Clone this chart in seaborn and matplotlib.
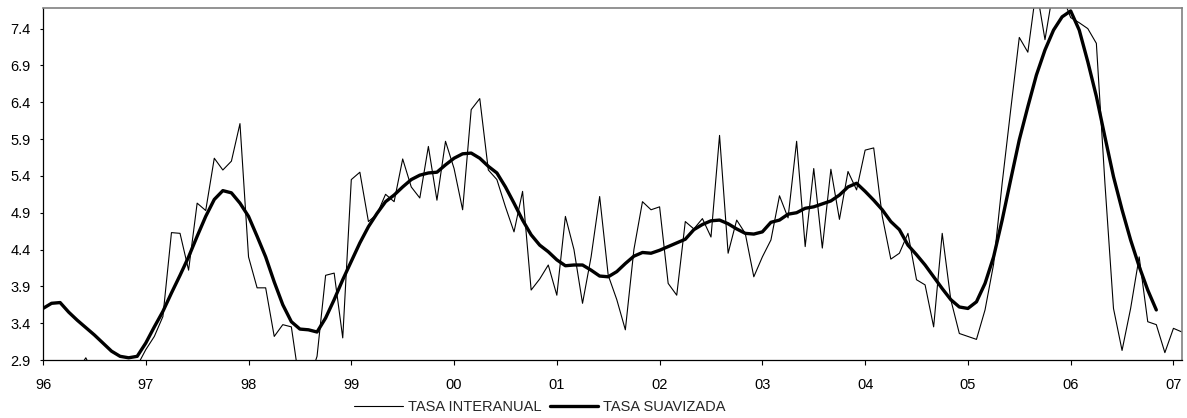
import numpy as np
import pandas as pd
import matplotlib
matplotlib.use("Agg")
import matplotlib.pyplot as plt
import seaborn as sns

# -----------------------------------------------------------
# Data: monthly values, Jan 96 = month 0
# -----------------------------------------------------------
year_labels = ['96', '97', '98', '99', '00', '01', '02', '03', '04', '05', '06', '07']

tasa_interanual = [
    2.60, 2.50, 2.55, 2.65, 2.75, 2.93, 2.70, 2.60, 2.50, 2.55, 2.65, 2.82,   # 96
    3.04, 3.22, 3.49, 4.63, 4.62, 4.12, 5.03, 4.93, 5.64, 5.48, 5.60, 6.11,   # 97
    4.30, 3.88, 3.88, 3.22, 3.38, 3.35, 2.55, 2.60, 2.95, 4.05, 4.08, 3.20,   # 98
    5.35, 5.45, 4.78, 4.88, 5.15, 5.05, 5.63, 5.25, 5.10, 5.80, 5.07, 5.87,   # 99
    5.50, 4.94, 6.30, 6.45, 5.48, 5.35, 4.98, 4.64, 5.19, 3.85, 4.00, 4.19,   # 00
    3.78, 4.85, 4.40, 3.67, 4.30, 5.12, 4.05, 3.72, 3.31, 4.40, 5.05, 4.94,   # 01
    4.98, 3.94, 3.78, 4.78, 4.68, 4.82, 4.57, 5.95, 4.35, 4.80, 4.62, 4.03,   # 02
    4.30, 4.53, 5.13, 4.83, 5.87, 4.44, 5.50, 4.42, 5.49, 4.81, 5.46, 5.21,   # 03
    5.75, 5.78, 4.85, 4.27, 4.35, 4.62, 3.99, 3.92, 3.35, 4.62, 3.72, 3.26,   # 04
    3.22, 3.18, 3.58, 4.20, 5.30, 6.30, 7.28, 7.08, 7.95, 7.25, 7.95, 7.85,   # 05
    7.55, 7.48, 7.40, 7.20, 5.30, 3.60, 3.03, 3.60, 4.30, 3.42, 3.38, 3.00,   # 06
    3.33, 3.28,                                                               # 07
]

tasa_suavizada = [
    3.60, 3.67, 3.68, 3.55, 3.44, 3.34, 3.24, 3.13, 3.02, 2.95, 2.93, 2.95,
    3.13, 3.35, 3.56, 3.81, 4.05, 4.30, 4.58, 4.85, 5.08, 5.20, 5.17, 5.03,
    4.85, 4.58, 4.30, 3.96, 3.65, 3.42, 3.32, 3.31, 3.28, 3.47, 3.72, 3.99,
    4.24, 4.49, 4.71, 4.89, 5.05, 5.14, 5.25, 5.35, 5.41, 5.44, 5.45, 5.55,
    5.64, 5.70, 5.71, 5.64, 5.53, 5.44, 5.25, 5.03, 4.80, 4.60, 4.46, 4.37,
    4.26, 4.18, 4.19, 4.19, 4.12, 4.04, 4.03, 4.10, 4.21, 4.31, 4.36, 4.35,
    4.39, 4.44, 4.49, 4.54, 4.67, 4.74, 4.79, 4.80, 4.75, 4.68, 4.62, 4.61,
    4.64, 4.77, 4.80, 4.88, 4.90, 4.96, 4.98, 5.02, 5.06, 5.14, 5.25, 5.30,
    5.19, 5.07, 4.94, 4.78, 4.67, 4.46, 4.33, 4.19, 4.03, 3.87, 3.72, 3.62,
    3.60, 3.69, 3.94, 4.30, 4.80, 5.35, 5.89, 6.34, 6.77, 7.11, 7.38, 7.56,
    7.64, 7.38, 6.95, 6.48, 5.93, 5.39, 4.94, 4.53, 4.17, 3.85, 3.58,
]

y_ticks = [2.9, 3.4, 3.9, 4.4, 4.9, 5.4, 5.9, 6.4, 6.9, 7.4]

df_int = pd.DataFrame({'t': np.arange(len(tasa_interanual)) / 12.0, 'valor': tasa_interanual})
df_suav = pd.DataFrame({'t': np.arange(len(tasa_suavizada)) / 12.0, 'valor': tasa_suavizada})

# -----------------------------------------------------------
# Plot
# -----------------------------------------------------------
sns.set_style('white')
plt.rcParams['font.family'] = ['Liberation Sans', 'DejaVu Sans']

fig = plt.figure(figsize=(11.87, 4.18), dpi=100)
ax = fig.add_axes([43 / 1187, 58 / 418, 1139 / 1187, 352 / 418])

sns.lineplot(data=df_int, x='t', y='valor', ax=ax, color='black',
             linewidth=0.8, label='TASA INTERANUAL')
sns.lineplot(data=df_suav, x='t', y='valor', ax=ax, color='black',
             linewidth=2.4, label='TASA SUAVIZADA')

ax.set_xlim(0, (len(tasa_interanual) - 1) / 12.0)
ax.set_ylim(2.9, 7.68)
ax.set_xticks(range(len(year_labels)))
ax.set_xticklabels(year_labels)
ax.set_yticks(y_ticks)
ax.set_yticklabels([f'{v:.1f}' for v in y_ticks])
ax.set_xlabel('')
ax.set_ylabel('')
ax.tick_params(axis='both', labelsize=10.5, colors='black', direction='out',
               width=0.8, bottom=True, left=True)
ax.tick_params(axis='x', length=3.6, pad=9.5)
ax.tick_params(axis='y', length=2.5, pad=6.5)

for side in ['left', 'bottom']:
    ax.spines[side].set_color('black')
    ax.spines[side].set_linewidth(0.9)
for side in ['top', 'right']:
    ax.spines[side].set_color('#808080')
    ax.spines[side].set_linewidth(1.2)

handles, labels = ax.get_legend_handles_labels()
ax.get_legend().remove()
fig.legend(handles, labels, loc='lower center', bbox_to_anchor=(0.455, -0.022),
           ncol=2, frameon=False, fontsize=10.5, handlelength=3.3,
           handletextpad=0.35, columnspacing=0.6)

plt.savefig('out.png', dpi=100)
